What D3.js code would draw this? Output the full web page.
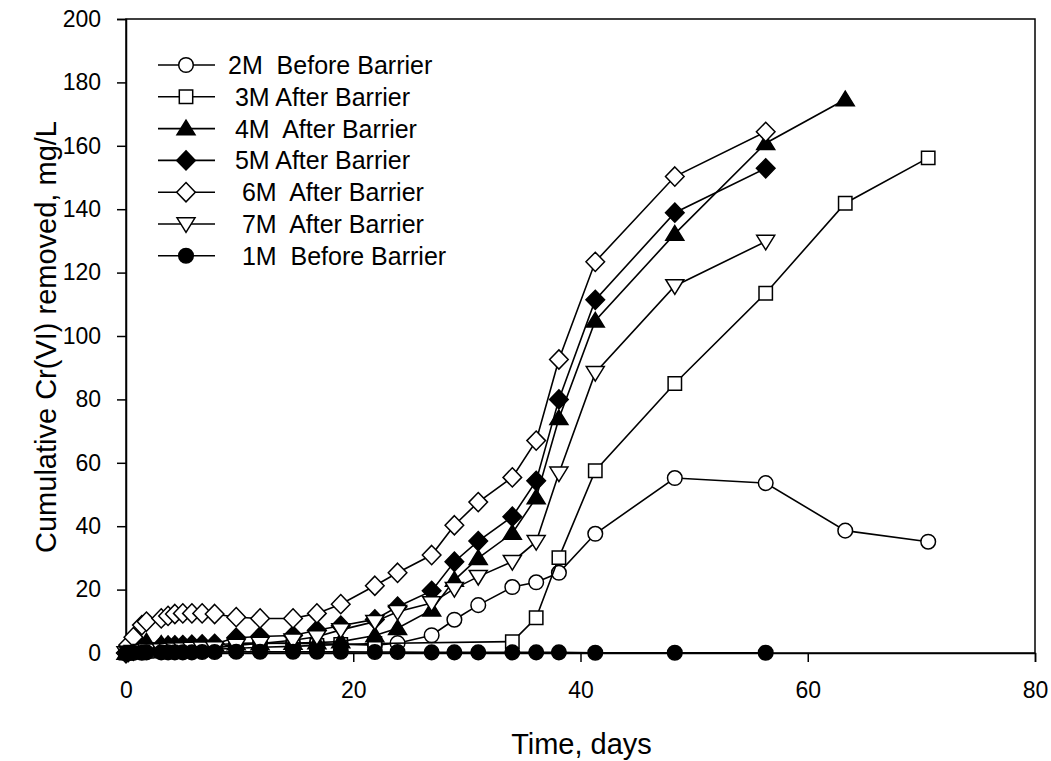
<!DOCTYPE html>
<html>
<head>
<meta charset="utf-8">
<script src="https://cdn.jsdelivr.net/npm/d3@7"></script>
<style>
  html, body { margin: 0; padding: 0; background: #fff; }
  svg { display: block; font-family: "Liberation Sans", Arial, sans-serif; }
</style>
</head>
<body>
<svg id="chart" width="1051" height="761"></svg>
<script>
// ---------- data ----------
const days2M = [0, 0.2, 0.65, 1.4, 1.8, 3.1, 3.7, 4.3, 5.0, 5.8, 6.7, 7.8, 9.7, 11.8, 14.7, 16.8, 18.9, 21.9, 23.9, 26.9, 28.9, 31.0, 34.0, 36.1, 38.1, 41.3, 48.3, 56.3, 63.3, 70.6];
const vals2M = [0, 0.1, 0.3, 0.5, 0.7, 0.9, 1.0, 1.1, 1.2, 1.3, 1.4, 1.5, 3.0, 3.2, 3.0, 2.9, 2.8, 2.5, 3.1, 5.6, 10.5, 15.1, 20.8, 22.3, 25.3, 37.6, 55.2, 53.6, 38.6, 35.1];

const days3M = [0, 0.2, 0.65, 1.4, 1.8, 3.1, 3.7, 4.3, 5.0, 5.8, 6.7, 7.8, 9.7, 11.8, 14.7, 16.8, 18.9, 21.9, 34.0, 36.1, 38.1, 41.3, 48.3, 56.3, 63.3, 70.6];
const vals3M = [0, 0.1, 0.2, 0.4, 0.5, 0.6, 0.7, 0.8, 0.9, 1.0, 1.1, 1.2, 1.5, 1.8, 2.1, 2.4, 2.7, 3.0, 3.6, 11.1, 30.1, 57.5, 85.0, 113.5, 141.9, 156.2];

const days4M = [0, 0.2, 0.65, 1.4, 1.8, 3.1, 3.7, 4.3, 5.0, 5.8, 6.7, 7.8, 9.7, 11.8, 14.7, 16.8, 18.9, 21.9, 23.9, 26.9, 28.9, 31.0, 34.0, 36.1, 38.1, 41.3, 48.3, 56.3, 63.3];
const vals4M = [0, 0.5, 1.2, 2.5, 3.5, 2.8, 2.6, 2.5, 2.5, 2.5, 2.5, 2.6, 3.0, 3.0, 3.1, 3.3, 3.6, 5.5, 7.8, 13.6, 23.0, 29.9, 37.8, 49.0, 74.0, 104.8, 132.2, 160.8, 174.6];

const days5M = [0, 0.2, 0.65, 1.4, 1.8, 3.1, 3.7, 4.3, 5.0, 5.8, 6.7, 7.8, 9.7, 11.8, 14.7, 16.8, 18.9, 21.9, 23.9, 26.9, 28.9, 31.0, 34.0, 36.1, 38.1, 41.3, 48.3, 56.3];
const vals5M = [0, 0.3, 0.8, 1.5, 2.0, 2.2, 2.3, 2.4, 2.5, 2.6, 2.7, 2.9, 4.8, 5.2, 5.5, 7.2, 8.6, 10.6, 14.6, 19.6, 28.8, 35.3, 43.0, 54.3, 80.0, 111.4, 138.9, 152.9];

const days6M = [0, 0.2, 0.65, 1.4, 1.8, 3.1, 3.7, 4.3, 5.0, 5.8, 6.7, 7.8, 9.7, 11.8, 14.7, 16.8, 18.9, 21.9, 23.9, 26.9, 28.9, 31.0, 34.0, 36.1, 38.1, 41.3, 48.3, 56.3];
const vals6M = [0, 2.5, 5.0, 8.8, 9.9, 10.9, 11.7, 12.3, 12.5, 12.5, 12.5, 12.3, 11.3, 10.9, 10.9, 12.5, 15.4, 21.2, 25.3, 30.9, 40.3, 47.6, 55.4, 67.0, 92.6, 123.4, 150.3, 164.4];

const days7M = [0, 0.2, 0.65, 1.4, 1.8, 3.1, 3.7, 4.3, 5.0, 5.8, 6.7, 7.8, 9.7, 11.8, 14.7, 16.8, 18.9, 21.9, 23.9, 26.9, 28.9, 31.0, 34.0, 36.1, 38.1, 41.3, 48.3, 56.3];
const vals7M = [0, 0.2, 0.4, 0.7, 0.9, 1.0, 1.1, 1.2, 1.3, 1.4, 1.5, 1.6, 2.4, 3.0, 4.0, 5.1, 7.3, 9.9, 13.0, 15.8, 20.3, 24.1, 28.8, 35.1, 56.7, 88.4, 115.8, 129.8];

const days1M = [0, 0.2, 0.65, 1.4, 1.8, 3.1, 3.7, 4.3, 5.0, 5.8, 6.7, 7.8, 9.7, 11.8, 14.7, 16.8, 18.9, 21.9, 23.9, 26.9, 28.9, 31.0, 34.0, 36.1, 38.1, 41.3, 48.3, 56.3];
const vals1M = [0, 0, 0.1, 0.1, 0.2, 0.2, 0.2, 0.2, 0.2, 0.2, 0.3, 0.3, 0.4, 0.4, 0.4, 0.4, 0.4, 0.3, 0.3, 0.2, 0.2, 0.2, 0.2, 0.2, 0.2, 0.1, 0.1, 0.1];

const seriesNames = ["2M  Before Barrier", " 3M After Barrier", " 4M  After Barrier", " 5M After Barrier", "  6M  After Barrier", "  7M  After Barrier", "  1M  Before Barrier"];
const seriesShapes = ["circleOpen", "squareOpen", "triangleFilled", "diamondFilled", "diamondOpen", "triangleDownOpen", "circleFilled"];

const xTicks = [0, 20, 40, 60, 80];
const yTicks = [0, 20, 40, 60, 80, 100, 120, 140, 160, 180, 200];
const xTitle = "Time, days";
const yTitle = "Cumulative Cr(VI) removed, mg/L";

const seriesDays = [days2M, days3M, days4M, days5M, days6M, days7M, days1M];
const seriesVals = [vals2M, vals3M, vals4M, vals5M, vals6M, vals7M, vals1M];

// ---------- layout ----------
const L = 126, R = 1035, T = 19, B = 653;
const FONT = '"Liberation Sans", Arial, sans-serif';
const svg = d3.select("#chart");
const x = d3.scaleLinear().domain([0, 80]).range([L, R]);
const y = d3.scaleLinear().domain([0, 200]).range([B, T]);

function markerPath(shape) {
  switch (shape) {
    case "circleOpen": case "circleFilled": {
      const r = 7.3;
      return `M${-r},0A${r},${r} 0 1,0 ${r},0A${r},${r} 0 1,0 ${-r},0Z`;
    }
    case "squareOpen": { const s = 6.7; return `M${-s},${-s}H${s}V${s}H${-s}Z`; }
    case "triangleFilled": return "M0,-8.4L9,6.2L-9,6.2Z";
    case "triangleDownOpen": return "M0,8.4L9,-6.2L-9,-6.2Z";
    case "diamondFilled": case "diamondOpen": return "M0,-9.6L9.3,0L0,9.6L-9.3,0Z";
  }
}
function isFilled(shape) { return shape.endsWith("Filled"); }

// frame
svg.append("rect").attr("x", L).attr("y", T).attr("width", R - L).attr("height", B - T)
  .attr("fill", "none").attr("stroke", "#000").attr("stroke-width", 1.5);

// axes
const xAxis = d3.axisBottom(x).tickValues(xTicks).tickSize(9).tickPadding(20).tickFormat(d3.format("d"));
const gx = svg.append("g").attr("transform", `translate(0,${B})`).call(xAxis);
const yAxis = d3.axisLeft(y).tickValues(yTicks).tickSize(9).tickPadding(16).tickFormat(d3.format("d"));
const gy = svg.append("g").attr("transform", `translate(${L},0)`).call(yAxis);
[gx, gy].forEach(g => {
  g.select(".domain").attr("stroke", "#000").attr("stroke-width", 1.5);
  g.selectAll(".tick line").attr("stroke", "#000").attr("stroke-width", 1.5);
  g.selectAll(".tick text").attr("fill", "#000").style("font-size", "23px")
    .style("font-family", FONT);
});
gx.selectAll(".tick text").attr("dy", "0.71em");

// titles
svg.append("text").attr("x", (L + R) / 2 + 1).attr("y", 754).attr("text-anchor", "middle")
  .style("font-size", "29px").text(xTitle);
svg.append("text").attr("transform", `translate(56,${(T + B) / 2 + 1}) rotate(-90)`)
  .attr("text-anchor", "middle").style("font-size", "29px").text(yTitle);

// lines and markers
const line = d3.line().x(d => x(d[0])).y(d => y(d[1]));
seriesDays.forEach((days, i) => {
  const pts = days.map((d, j) => [d, seriesVals[i][j]]);
  const g = svg.append("g");
  g.append("path").attr("d", line(pts)).attr("fill", "none").attr("stroke", "#000").attr("stroke-width", 1.6);
  g.selectAll("path.m").data(pts).enter().append("path").attr("class", "m")
    .attr("d", markerPath(seriesShapes[i]))
    .attr("transform", d => `translate(${x(d[0])},${y(d[1])})`)
    .attr("fill", isFilled(seriesShapes[i]) ? "#000" : "#fff")
    .attr("stroke", "#000").attr("stroke-width", 1.5);
});

// legend
const legY0 = 65, legDy = 31.8;
seriesNames.forEach((name, i) => {
  const cy = legY0 + i * legDy;
  svg.append("line").attr("x1", 158).attr("x2", 215).attr("y1", cy).attr("y2", cy)
    .attr("stroke", "#000").attr("stroke-width", 1.6);
  svg.append("path").attr("d", markerPath(seriesShapes[i]))
    .attr("transform", `translate(186,${cy})`)
    .attr("fill", isFilled(seriesShapes[i]) ? "#000" : "#fff")
    .attr("stroke", "#000").attr("stroke-width", 1.5);
  svg.append("text").attr("x", 228).attr("y", cy + 9).attr("xml:space", "preserve")
    .style("white-space", "pre").style("font-size", "25px").text(name);
});
</script>
</body>
</html>
